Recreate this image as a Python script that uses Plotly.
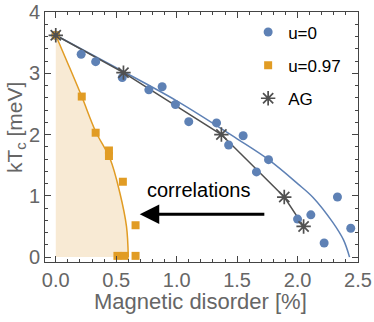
import plotly.graph_objects as go

# ---- data ----
u0_x = [0.0, 0.21, 0.33, 0.55, 0.77, 0.88, 0.99, 1.10, 1.33, 1.43, 1.55, 1.66, 1.76, 2.00, 2.11, 2.22, 2.33, 2.44]
u0_y = [3.62, 3.31, 3.19, 2.93, 2.73, 2.78, 2.49, 2.21, 2.19, 1.83, 1.98, 1.39, 1.59, 0.62, 0.69, 0.23, 0.98, 0.47]

u097_x = [0.0, 0.215, 0.33, 0.44, 0.44, 0.555, 0.66, 0.51, 0.57, 0.66]
u097_y = [3.62, 2.62, 2.03, 1.74, 1.65, 1.23, 0.52, 0.02, 0.02, 0.02]

ag_x = [0.0, 0.56, 1.37, 1.89, 2.05]
ag_y = [3.62, 3.01, 2.0, 0.98, 0.50]

# fitted curves
fit_u0_x = [0.0, 0.5, 1.0, 1.5, 1.76, 2.0, 2.13, 2.29, 2.38, 2.43]
fit_u0_y = [3.62, 3.09, 2.55, 1.93, 1.59, 1.2, 0.97, 0.57, 0.28, 0.0]

fit_u097_x = [0.0, 0.1, 0.215, 0.33, 0.45, 0.53, 0.585, 0.60]
fit_u097_y = [3.62, 3.16, 2.62, 2.05, 1.6, 1.05, 0.5, 0.0]

arrow_tail = (1.75, 0.70)
arrow_tip = (0.695, 0.70)
note_text = "correlations"
note_pos = (1.18, 1.1)

x_title = "Magnetic disorder [%]"
y_title = "kT<sub>c</sub> [meV]"

x_ticks = [0.0, 0.5, 1.0, 1.5, 2.0, 2.5]
x_ticklabels = ["0.0", "0.5", "1.0", "1.5", "2.0", "2.5"]
y_ticks = [0, 1, 2, 3, 4]
y_ticklabels = ["0", "1", "2", "3", "4"]

BLUE = "#5E81B5"
ORANGE = "#E19C24"
GRAY = "#505050"
FILL = "rgba(248,234,212,1)"
FONT = "Liberation Sans"

fig = go.Figure()

# shaded region left of the u=0.97 curve
fig.add_trace(go.Scatter(x=fit_u097_x, y=fit_u097_y, mode="lines", fill="tozerox",
                         fillcolor=FILL, line=dict(color=ORANGE, width=1.5, shape="spline"),
                         showlegend=False, hoverinfo="skip"))
fig.add_trace(go.Scatter(x=fit_u0_x, y=fit_u0_y, mode="lines",
                         line=dict(color=BLUE, width=1.5, shape="spline"),
                         showlegend=False, hoverinfo="skip"))
fig.add_trace(go.Scatter(x=ag_x, y=ag_y, mode="lines",
                         line=dict(color=GRAY, width=1.5),
                         showlegend=False, hoverinfo="skip"))

fig.add_trace(go.Scatter(x=u0_x, y=u0_y, mode="markers", name="u=0", legendgroup="a",
                         marker=dict(color=BLUE, size=9, symbol="circle")))
fig.add_trace(go.Scatter(x=u097_x, y=u097_y, mode="markers", name="u=0.97", legendgroup="b",
                         marker=dict(color=ORANGE, size=8, symbol="square")))
fig.add_trace(go.Scatter(x=ag_x, y=ag_y, mode="markers", name="AG", legendgroup="c",
                         marker=dict(color=GRAY, size=12, symbol="asterisk-open",
                                     line=dict(color=GRAY, width=1.7))))

fig.add_annotation(x=arrow_tip[0], y=arrow_tip[1], ax=arrow_tail[0], ay=arrow_tail[1],
                   xref="x", yref="y", axref="x", ayref="y", text=" ",
                   showarrow=True, arrowhead=2, arrowsize=1.3, arrowwidth=3, arrowcolor="black")
fig.add_annotation(x=note_pos[0], y=note_pos[1], xref="x", yref="y", text=note_text,
                   showarrow=False, font=dict(family=FONT, size=20, color="black"))

# axis titles placed as annotations (plot area: 45..358 x 12..262 px)
fig.add_annotation(x=(200 - 45) / 313, y=(262 - 301) / 250, xref="paper", yref="paper",
                   text=x_title, showarrow=False, xanchor="center", yanchor="middle",
                   font=dict(family=FONT, size=22, color="#666"))
fig.add_annotation(x=(16 - 45) / 313, y=(262 - 128) / 250, xref="paper", yref="paper",
                   text=y_title, showarrow=False, xanchor="center", yanchor="middle",
                   textangle=-90, font=dict(family=FONT, size=21, color="#666"))

axis_common = dict(showline=True, linecolor="#444", linewidth=1, mirror="allticks",
                   ticks="inside", ticklen=6, tickcolor="#444", showgrid=False, zeroline=False,
                   automargin=False,
                   tickfont=dict(family=FONT, size=20, color="#666"))

fig.update_xaxes(range=[-0.089, 2.5], tickvals=x_ticks, ticktext=x_ticklabels,
                 minor=dict(ticks="inside", ticklen=3, tickcolor="#444", dtick=0.1, tick0=0),
                 **axis_common)
fig.update_yaxes(range=[-0.08, 4.0], tickvals=y_ticks, ticktext=y_ticklabels,
                 minor=dict(ticks="inside", ticklen=3, tickcolor="#444", dtick=0.2, tick0=0),
                 **axis_common)

fig.update_layout(width=374, height=322, margin=dict(l=45, r=16, t=12, b=60),
                  plot_bgcolor="white", paper_bgcolor="white",
                  legend=dict(x=0.649, y=0.99, xanchor="left", yanchor="top",
                              font=dict(family=FONT, size=17, color="black"),
                              bgcolor="rgba(0,0,0,0)", tracegroupgap=8),
                  font=dict(family=FONT))

fig.write_html("out.html", config={"displayModeBar": False},
               post_script="document.body.style.margin='0';document.body.style.overflow='hidden';")
